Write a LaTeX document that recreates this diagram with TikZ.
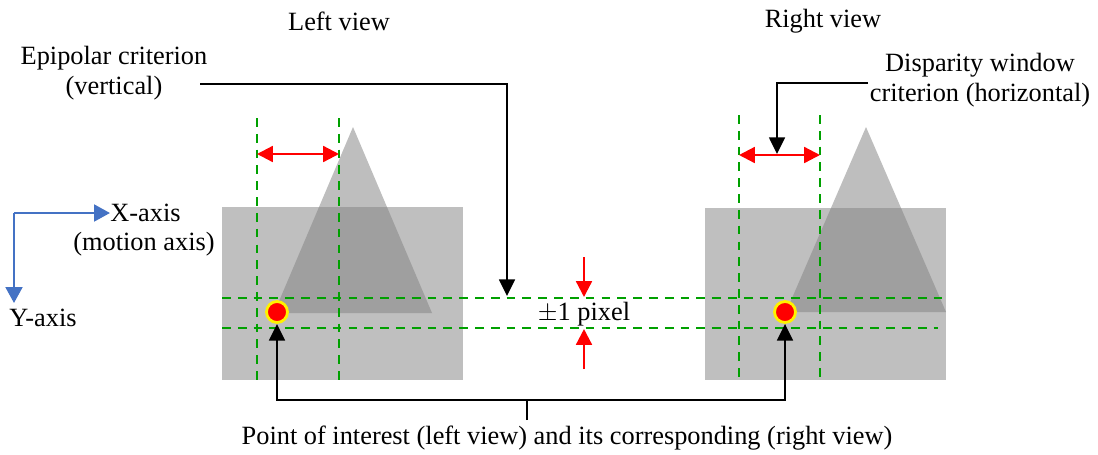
\documentclass[tikz,border=0pt]{standalone}
\usepackage{fontspec}
\setmainfont{Liberation Serif}
\usetikzlibrary{arrows.meta}
\definecolor{axisblue}{HTML}{4472C4}
\definecolor{dashgreen}{RGB}{0,160,0}

\begin{document}
\begin{tikzpicture}[x=0.02cm,y=-0.02cm,
    every node/.style={font=\fontsize{15}{17}\selectfont},
    txt/.style={inner sep=0pt,align=center},
    view/.style={fill=black!25,draw=none},
    obj/.style={fill=black!49,fill opacity=0.52,draw=none},
    grid/.style={dashgreen,line width=1.2pt,dash pattern=on 5pt off 4pt},
    redarr/.style={red,line width=1.3pt,-{Triangle[length=9pt,width=9pt]}},
    dblarr/.style={red,line width=1.3pt,{Triangle[length=9pt,width=9pt]}-{Triangle[length=9pt,width=9pt]}},
    blkarr/.style={black,line width=1.3pt,-{Triangle[length=9.5pt,width=9pt]}},
    axarr/.style={axisblue,line width=1.4pt,-{Triangle[length=9pt,width=9.5pt]}},
    poi/.style={circle,fill=red,draw=yellow,line width=1.6pt,minimum size=0.42cm,inner sep=0pt}]
\useasboundingbox (0,0) rectangle (1098,454);

% titles
\node[txt] (lview) at (339,21) {Left view};
\node[txt] (rview) at (823,21) {Right view};
\node[txt] (epi) at (114,73) {Epipolar criterion\\(vertical)};
\node[txt] (disp) at (980,80) {Disparity window\\criterion (horizontal)};

% image planes
\draw[view] (222,207) rectangle (463,380);
\fill[obj] (274,313) -- (353,127) -- (432,313) -- cycle;
\draw[view] (705,208) rectangle (946,380);
\fill[obj] (786,312) -- (866,127) -- (946,312) -- cycle;

% search window
\draw[grid] (257,118) -- (257,382);
\draw[grid] (339,118) -- (339,382);
\draw[grid] (739,115) -- (739,382);
\draw[grid] (820,115) -- (820,382);
\draw[grid] (222,298) -- (944,298);
\draw[grid] (222,328) -- (938,328);

% points of interest
\node[poi] (ptL) at (277,312) {};
\node[poi] (ptR) at (785,312) {};

% widths
\coordinate (wL1) at (257,154);
\coordinate (wL2) at (339,154);
\coordinate (wR1) at (739,155);
\coordinate (wR2) at (820,155);
\draw[dblarr] (wL1) -- (wL2);
\draw[dblarr] (wR1) -- (wR2);

% +-1 pixel
\node[txt] (pix) at (584,314) {$\pm$1 pixel};
\coordinate (pixtop) at (584,257);
\coordinate (pixbot) at (584,369);
\draw[redarr] (pixtop) -- (pix.north |- 0,297);
\draw[redarr] (pixbot) -- (pix.south |- 0,329);

% criteria callouts
\coordinate (epistart) at (200,84);
\coordinate (epitip) at (507,296);
\draw[blkarr] (epistart) -| (epitip);
\coordinate (dispstart) at (868,83);
\coordinate (disptip) at (777,154);
\draw[blkarr] (dispstart) -| (disptip);

% correspondence bracket
\node[txt] (note) at (567,438) {Point of interest (left view) and its corresponding (right view)};
\coordinate (brk) at (527,400);
\draw[line width=1.3pt] (brk |- 0,420) -- (brk);
\draw[blkarr] (brk) -| (ptL.south);
\draw[blkarr] (brk) -| (ptR.south);

% axes
\coordinate (orig) at (14,213);
\node[txt,anchor=west] (xax) at (110,213) {X-axis};
\node[txt] (xsub) at (144,244) {(motion axis)};
\node[txt] (yax) at (43,318) {Y-axis};
\draw[axarr] (orig) -- (xax.west);
\draw[axarr] (orig) -- (orig |- 0,303);
\end{tikzpicture}
\end{document}
